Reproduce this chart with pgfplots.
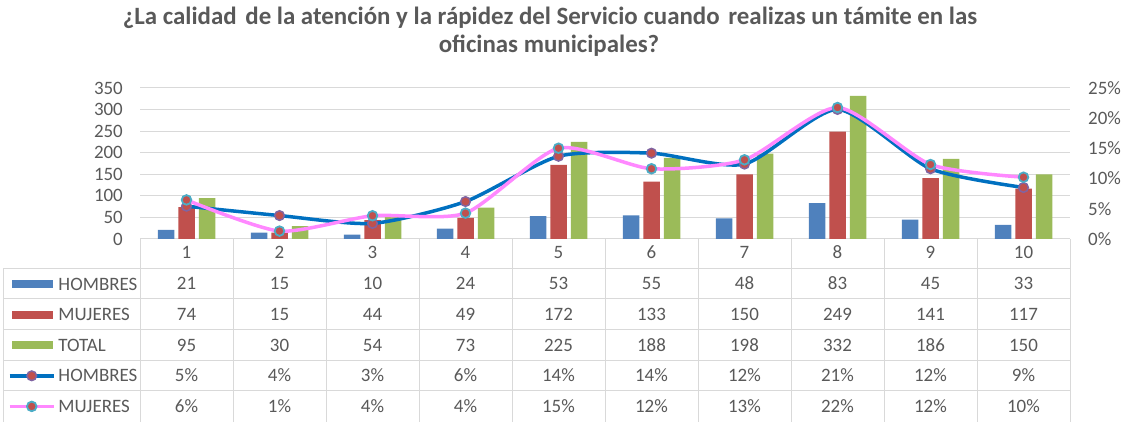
\documentclass[border=0pt]{standalone}
\usepackage{fontspec}
\setmainfont{Carlito}
\usepackage{pgfplots}
\usepackage{pgfplotstable}
\pgfplotsset{compat=1.18}
\definecolor{txt}{RGB}{89,89,89}
\definecolor{gridc}{RGB}{217,217,217}
\definecolor{cblue}{RGB}{79,129,189}
\definecolor{cred}{RGB}{192,80,77}
\definecolor{cgreen}{RGB}{155,187,89}
\definecolor{lblue}{RGB}{0,112,192}
\definecolor{lpink}{RGB}{255,136,255}
\definecolor{mpurple}{RGB}{128,100,162}
\definecolor{mcyan}{RGB}{75,172,198}

\pgfplotsset{
  linekey/.style={legend image code/.code={\draw[mark repeat=2,mark phase=2,##1] plot coordinates {(0bp,0bp) (22bp,0bp) (44bp,0bp)};}},
  barkey/.style={legend image code/.code={\fill[#1] (2bp,-4bp) rectangle (43bp,4bp);}},
}

\pgfplotstableread{
cat h m t
1 21 74 95
2 15 15 30
3 10 44 54
4 24 49 73
5 53 172 225
6 55 133 188
7 48 150 198
8 83 249 332
9 45 141 186
10 33 117 150
}\counts

\pgfplotstableread{
cat ph pm
1 5.43 6.47
2 3.88 1.31
3 2.58 3.85
4 6.20 4.28
5 13.70 15.03
6 14.21 11.63
7 12.40 13.11
8 21.45 21.77
9 11.63 12.33
10 8.53 10.23
}\pcts

\newcommand{\tabfont}{\fontsize{19}{21}\selectfont}

\begin{document}
\begin{tikzpicture}
\path[use as bounding box] (0bp,0bp) rectangle (1122bp,422bp);

% title
\node[anchor=base, text=txt, font=\fontsize{25}{30}\selectfont\bfseries]
  at (550bp,397bp) {¿La calidad\hspace{0.12em} de la atención y la rápidez del Servicio cuando\hspace{0.12em} realizas un támite en las};
\node[anchor=base, text=txt, font=\fontsize{25}{30}\selectfont\bfseries]
  at (549bp,369bp) {oficinas municipales?};

% table grid
\foreach \k in {0,...,10}
  \draw[gridc, line width=1bp] ({(140+93*\k)*1bp},0bp) -- ({(140+93*\k)*1bp},183bp);
\draw[gridc, line width=1bp] (3bp,0bp) -- (3bp,153bp);
\foreach \yy in {153,123,92,61,31}
  \draw[gridc, line width=1bp] (3bp,\yy bp) -- (1070bp,\yy bp);

\begin{axis}[
  at={(140bp,183bp)}, anchor=south west,
  scale only axis, width=930bp, height=151bp,
  xmin=0.5, xmax=10.5, ymin=0, ymax=350,
  xtick={1,...,10},
  ytick={0,50,...,350},
  axis line style={draw=none},
  major tick length=0,
  ymajorgrids, grid style={gridc, line width=1bp},
  tick label style={text=txt, font=\tabfont},
  /pgf/number format/assume math mode=true,
  xticklabel style={anchor=base, inner sep=0pt, yshift=-20bp},
  yticklabel style={anchor=east, inner sep=0pt, xshift=-17bp},
  clip=false,
  legend style={at={(-0.14194,-0.24503)}, anchor=north west, draw=none, fill=none,
    inner sep=0pt, outer sep=0pt, row sep=14.6bp, column sep=3bp,
    nodes={text=txt, font=\tabfont, text height=14bp, text depth=2bp, inner sep=0pt}},
  legend cell align=left,
]
\addplot[ybar, bar width=16.5bp, bar shift=-20.5bp, fill=cblue, draw=none, barkey=cblue]
  table[x=cat, y=h] {\counts};
\addlegendentry{HOMBRES}
\addplot[ybar, bar width=16.5bp, bar shift=0bp, fill=cred, draw=none, barkey=cred]
  table[x=cat, y=m] {\counts};
\addlegendentry{MUJERES}
\addplot[ybar, bar width=16.5bp, bar shift=20.5bp, fill=cgreen, draw=none, barkey=cgreen]
  table[x=cat, y=t] {\counts};
\addlegendentry{TOTAL}
\addlegendimage{lblue, line width=3.5bp, mark=*, mark size=4.8bp,
  mark options={fill=cred, draw=mpurple, line width=1.5bp}, linekey}
\addlegendentry{HOMBRES}
\addlegendimage{lpink, line width=3.5bp, mark=*, mark size=4.8bp,
  mark options={fill=cred, draw=mcyan, line width=1.8bp}, linekey}
\addlegendentry{MUJERES}
\end{axis}

\begin{axis}[
  at={(140bp,183bp)}, anchor=south west,
  scale only axis, width=930bp, height=151bp,
  xmin=0.5, xmax=10.5, ymin=0, ymax=25,
  hide x axis,
  axis y line*=right,
  axis line style={draw=none},
  major tick length=0,
  ytick={0,5,...,25},
  yticklabels={0\%,5\%,10\%,15\%,20\%,25\%},
  yticklabel style={anchor=west, inner sep=0pt, xshift=18bp, text=txt, font=\tabfont},
  clip=false,
]
\addplot[lblue, line width=3.5bp, smooth, tension=0.4, mark=*, mark size=4.8bp,
  mark options={fill=cred, draw=mpurple, line width=1.5bp}]
  table[x=cat, y=ph] {\pcts};
\addplot[lpink, line width=3.5bp, smooth, tension=0.4, mark=*, mark size=4.8bp,
  mark options={fill=cred, draw=mcyan, line width=1.8bp}]
  table[x=cat, y=pm] {\pcts};
\end{axis}

% table values
\foreach \v [count=\i] in {21,15,10,24,53,55,48,83,45,33}
  \node[anchor=base, text=txt, font=\tabfont, inner sep=0pt] at ({(140+93*(\i-0.5))*1bp},132.0bp) {\v};
\foreach \v [count=\i] in {74,15,44,49,172,133,150,249,141,117}
  \node[anchor=base, text=txt, font=\tabfont, inner sep=0pt] at ({(140+93*(\i-0.5))*1bp},101.5bp) {\v};
\foreach \v [count=\i] in {95,30,54,73,225,188,198,332,186,150}
  \node[anchor=base, text=txt, font=\tabfont, inner sep=0pt] at ({(140+93*(\i-0.5))*1bp},70.5bp) {\v};
\foreach \v [count=\i] in {5,4,3,6,14,14,12,21,12,9}
  \node[anchor=base, text=txt, font=\tabfont, inner sep=0pt] at ({(140+93*(\i-0.5))*1bp},40.0bp) {\v\%};
\foreach \v [count=\i] in {6,1,4,4,15,12,13,22,12,10}
  \node[anchor=base, text=txt, font=\tabfont, inner sep=0pt] at ({(140+93*(\i-0.5))*1bp},9.5bp) {\v\%};
\end{tikzpicture}
\end{document}
